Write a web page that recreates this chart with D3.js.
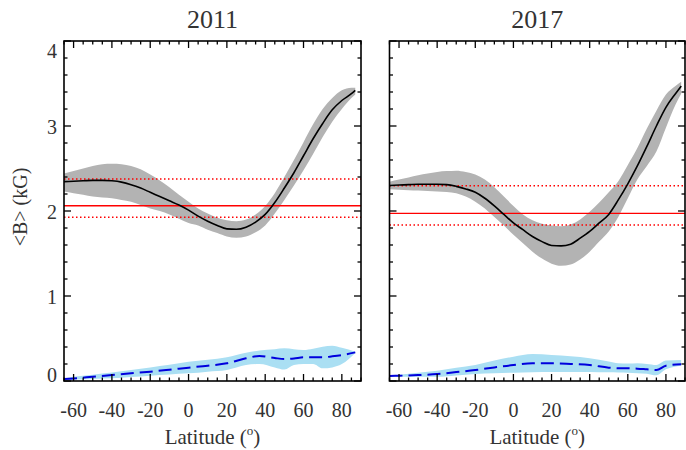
<!DOCTYPE html>
<html><head><meta charset="utf-8">
<script src="https://cdn.jsdelivr.net/npm/d3@7"></script>
<style>body{margin:0;background:#fff;} svg{display:block;}</style>
</head><body>
<svg id="c" width="686" height="450"></svg>
<script>
// ---------- data ----------
const panelTitles = ["2011", "2017"];
const xTicks = [-60, -40, -20, 0, 20, 40, 60, 80];
const yTicks = [0, 1, 2, 3, 4];

const lat2011 = [-65,-60,-55,-50,-45,-40,-35,-30,-25,-20,-15,-10,-5,0,5,10,15,20,25,30,35,40,45,50,55,60,65,70,75,80,85,87];
const mean2011 = [2.345,2.35,2.355,2.36,2.36,2.355,2.34,2.31,2.27,2.22,2.17,2.12,2.07,2.01,1.94,1.88,1.83,1.79,1.785,1.81,1.87,1.96,2.10,2.27,2.45,2.65,2.85,3.03,3.19,3.30,3.38,3.42];
const hi2011 = [2.44,2.47,2.50,2.53,2.55,2.555,2.55,2.53,2.49,2.43,2.36,2.28,2.19,2.11,2.03,1.97,1.92,1.89,1.88,1.90,1.96,2.06,2.21,2.40,2.60,2.81,3.02,3.20,3.33,3.42,3.45,3.45];
const lo2011 = [2.23,2.21,2.19,2.17,2.16,2.15,2.13,2.11,2.07,2.03,2.00,1.96,1.91,1.86,1.83,1.78,1.74,1.70,1.685,1.70,1.75,1.83,1.97,2.13,2.30,2.48,2.67,2.87,3.05,3.20,3.33,3.37];

const lat2017 = [-65,-60,-55,-50,-45,-40,-35,-30,-25,-20,-15,-10,-5,0,5,10,15,20,25,30,35,40,45,50,55,60,65,70,75,80,85,88];
const mean2017 = [2.30,2.305,2.31,2.315,2.315,2.315,2.31,2.29,2.26,2.22,2.15,2.06,1.96,1.86,1.78,1.70,1.64,1.595,1.59,1.61,1.68,1.76,1.86,1.96,2.13,2.32,2.53,2.76,3.00,3.22,3.38,3.47];
const hi2017 = [2.345,2.37,2.395,2.42,2.44,2.46,2.47,2.475,2.46,2.43,2.37,2.28,2.17,2.06,1.96,1.89,1.85,1.83,1.82,1.84,1.90,1.99,2.10,2.22,2.35,2.54,2.74,2.97,3.18,3.37,3.47,3.52];
const lo2017 = [2.255,2.25,2.245,2.24,2.235,2.23,2.225,2.21,2.17,2.11,2.03,1.93,1.83,1.72,1.62,1.52,1.44,1.38,1.355,1.37,1.43,1.52,1.64,1.76,1.93,2.15,2.37,2.53,2.70,2.98,3.25,3.38];

const blueLat2011 = [-65,-60,-50,-40,-30,-20,-10,0,10,20,30,37,45,50,55,60,65,70,75,80,87];
const blue2011 = [0.024,0.03,0.05,0.07,0.09,0.11,0.133,0.157,0.18,0.208,0.267,0.294,0.27,0.259,0.265,0.279,0.279,0.279,0.29,0.305,0.337];
const blueHi2011 = [0.03,0.05,0.075,0.10,0.13,0.16,0.19,0.227,0.25,0.279,0.333,0.36,0.375,0.384,0.375,0.365,0.38,0.404,0.415,0.39,0.345];
const blueLo2011 = [0.015,0.018,0.025,0.031,0.047,0.063,0.077,0.09,0.11,0.13,0.188,0.2,0.16,0.135,0.188,0.2,0.2,0.149,0.16,0.2,0.33];

const blueLat2017 = [-65,-60,-50,-40,-30,-20,-10,0,10,20,30,40,50,55,60,65,70,75,80,88];
const blue2017 = [0.059,0.062,0.07,0.082,0.105,0.129,0.16,0.188,0.208,0.208,0.2,0.188,0.157,0.15,0.149,0.145,0.137,0.129,0.18,0.196];
const blueHi2017 = [0.065,0.075,0.098,0.122,0.155,0.188,0.24,0.286,0.318,0.306,0.29,0.267,0.23,0.208,0.205,0.208,0.2,0.188,0.24,0.247];
const blueLo2017 = [0.05,0.05,0.05,0.05,0.065,0.082,0.09,0.098,0.104,0.106,0.106,0.106,0.102,0.1,0.098,0.092,0.086,0.067,0.137,0.18];

const refMean = [2.062, 1.973];
const refHi = [2.376, 2.298];
const refLo = [1.926, 1.835];

// ---------- layout ----------
const svg = d3.select("#c");
const plotTop = 41, plotBottom = 381;
const panels = [
  {x0: 64, x1: 361, lat: lat2011, mean: mean2011, hi: hi2011, lo: lo2011,
   bl: blueLat2011, b: blue2011, bh: blueHi2011, blo: blueLo2011},
  {x0: 389.5, x1: 685, lat: lat2017, mean: mean2017, hi: hi2017, lo: lo2017,
   bl: blueLat2017, b: blue2017, bh: blueHi2017, blo: blueLo2017}
];
const font = "'Liberation Serif', 'Times New Roman', serif";
const txt = "#333";

panels.forEach((p, i) => {
  const x = d3.scaleLinear().domain([-65, 90]).range([p.x0, p.x1]);
  const y = d3.scaleLinear().domain([0, 4]).range([plotBottom, plotTop]);
  const g = svg.append("g");
  const cid = "clip" + i;
  svg.append("clipPath").attr("id", cid).append("rect")
    .attr("x", p.x0).attr("y", plotTop).attr("width", p.x1 - p.x0).attr("height", plotBottom - plotTop);
  const pg = g.append("g").attr("clip-path", `url(#${cid})`);

  const band = d3.area().x(d => x(d[0])).y0(d => y(d[1])).y1(d => y(d[2])).curve(d3.curveMonotoneX);
  const line = d3.line().x(d => x(d[0])).y(d => y(d[1])).curve(d3.curveMonotoneX);

  pg.append("path").attr("d", band(p.lat.map((l, k) => [l, p.lo[k], p.hi[k]])))
    .attr("fill", "#b3b3b3");
  pg.append("path").attr("d", band(p.bl.map((l, k) => [l, p.blo[k], p.bh[k]])))
    .attr("fill", "#aadff3");

  // reference lines
  [[refHi[i], "1.5,2.5"], [refLo[i], "1.5,2.5"], [refMean[i], null]].forEach(([v, da]) => {
    const l = pg.append("line").attr("x1", p.x0).attr("x2", p.x1)
      .attr("y1", y(v)).attr("y2", y(v))
      .attr("stroke", "#ff0000").attr("stroke-width", da ? 1.5 : 1.3);
    if (da) l.attr("stroke-dasharray", da);
  });

  pg.append("path").attr("d", line(p.lat.map((l, k) => [l, p.mean[k]])))
    .attr("fill", "none").attr("stroke", "#000").attr("stroke-width", 1.6);
  pg.append("path").attr("d", line(p.bl.map((l, k) => [l, p.b[k]])))
    .attr("fill", "none").attr("stroke", "#0000dd").attr("stroke-width", 2)
    .attr("stroke-dasharray", "13,6");

  // axes: all four sides, ticks inward
  const minorX = d3.range(-65, 91, 5);
  const minorY = d3.range(0, 4.01, 0.2);
  const ax = g.append("g").attr("stroke", "#000").attr("stroke-width", 1.3);
  minorX.forEach(v => {
    const major = v % 20 === 0;
    const len = major ? 7 : 3.5;
    ax.append("line").attr("x1", x(v)).attr("x2", x(v)).attr("y1", plotBottom).attr("y2", plotBottom - len);
    ax.append("line").attr("x1", x(v)).attr("x2", x(v)).attr("y1", plotTop).attr("y2", plotTop + len);
  });
  minorY.forEach(v => {
    const major = Math.abs(v - Math.round(v)) < 1e-6;
    const len = major ? 7 : 3.5;
    ax.append("line").attr("y1", y(v)).attr("y2", y(v)).attr("x1", p.x0).attr("x2", p.x0 + len);
    ax.append("line").attr("y1", y(v)).attr("y2", y(v)).attr("x1", p.x1).attr("x2", p.x1 - len);
  });
  g.append("rect").attr("x", p.x0).attr("y", plotTop).attr("width", p.x1 - p.x0).attr("height", plotBottom - plotTop)
    .attr("fill", "none").attr("stroke", "#000").attr("stroke-width", 1.6);

  // tick labels
  g.selectAll(".xl").data(xTicks).enter().append("text")
    .attr("x", d => x(d)).attr("y", 417).attr("text-anchor", "middle")
    .attr("font-family", font).attr("font-size", 20).attr("fill", txt)
    .text(d => d);
  if (i === 0) {
    g.selectAll(".yl").data(yTicks).enter().append("text")
      .attr("x", 57).attr("y", d => d === 4 ? y(d) + 17 : (d === 0 ? y(d) + 1 : y(d) + 8))
      .attr("text-anchor", "end")
      .attr("font-family", font).attr("font-size", 20).attr("fill", txt)
      .text(d => d);
    svg.append("text").attr("transform", "translate(27,207) rotate(-90)")
      .attr("text-anchor", "middle").attr("font-family", font).attr("font-size", 20).attr("fill", txt)
      .text("<B> (kG)");
  }
  // titles
  svg.append("text").attr("x", (p.x0 + p.x1) / 2).attr("y", 28).attr("text-anchor", "middle")
    .attr("font-family", font).attr("font-size", 26).attr("fill", txt).text(panelTitles[i]);
  // x label
  const xl = svg.append("text").attr("x", (p.x0 + p.x1) / 2).attr("y", 444).attr("text-anchor", "middle")
    .attr("font-family", font).attr("font-size", 21).attr("fill", txt);
  xl.append("tspan").text("Latitude (");
  xl.append("tspan").attr("font-size", 13).attr("dy", -9).text("o");
  xl.append("tspan").attr("dy", 9).text(")");
});
</script>
</body></html>
